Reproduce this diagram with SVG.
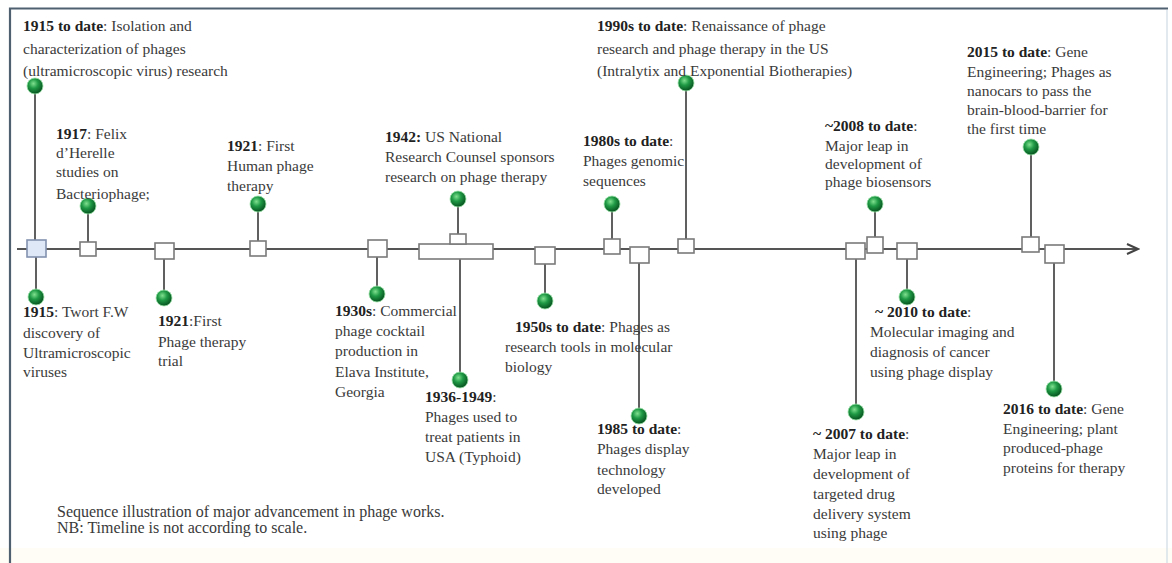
<svg xmlns="http://www.w3.org/2000/svg" width="1172" height="563" viewBox="0 0 1172 563">
<defs>
<radialGradient id="ball" cx="0.4" cy="0.35" r="0.65">
<stop offset="0" stop-color="#7fe08f"/>
<stop offset="0.45" stop-color="#1f9a45"/>
<stop offset="1" stop-color="#06521f"/>
</radialGradient>
<marker id="arr" markerWidth="14" markerHeight="12" refX="12" refY="6" orient="auto" markerUnits="userSpaceOnUse">
<path d="M1,1 L12,6 L1,11" fill="none" stroke="#444" stroke-width="2"/>
</marker>
<style>
.t{font-family:"Liberation Serif","Times New Roman",serif;font-size:15.5px;fill:#3a3a3a}
.c{font-size:16px}
.b{font-weight:bold;fill:#222}
.box{fill:#fff;stroke:#7a7a7a;stroke-width:1.6}
.stem{stroke:#606060;stroke-width:2}
.ball{fill:url(#ball);stroke:#9be3a8;stroke-width:0.8}
</style>
</defs>
<rect x="0" y="0" width="1172" height="563" fill="#fff"/>
<rect x="0" y="548" width="1172" height="15" fill="#fffdf5"/>
<path d="M10,563 L10,8.5 L1168,8.5" fill="none" stroke="#4f6070" stroke-width="2.2"/>
<line x1="1167" y1="10" x2="1167" y2="563" stroke="#d8e2ea" stroke-width="1.5"/>

<g id="connectors">
<line x1="17" y1="249" x2="1138" y2="249" stroke="#555" stroke-width="2" marker-end="url(#arr)"/>
<line class="stem" x1="35" y1="86" x2="35" y2="240"/>
<line class="stem" x1="36" y1="257" x2="36" y2="297"/>
<line class="stem" x1="88" y1="206" x2="88" y2="242"/>
<line class="stem" x1="164" y1="259" x2="164" y2="298"/>
<line class="stem" x1="258" y1="204" x2="258" y2="241"/>
<line class="stem" x1="377" y1="257" x2="377" y2="294"/>
<line class="stem" x1="458" y1="199" x2="458" y2="234"/>
<line class="stem" x1="460" y1="259" x2="460" y2="380"/>
<line class="stem" x1="545" y1="264" x2="545" y2="301"/>
<line class="stem" x1="612" y1="204" x2="612" y2="239"/>
<line class="stem" x1="639" y1="263" x2="639" y2="416"/>
<line class="stem" x1="686" y1="83" x2="686" y2="239"/>
<line class="stem" x1="856" y1="259" x2="856" y2="412"/>
<line class="stem" x1="875" y1="204" x2="875" y2="237"/>
<line class="stem" x1="907" y1="259" x2="907" y2="297"/>
<line class="stem" x1="1031" y1="147" x2="1031" y2="237"/>
<line class="stem" x1="1054" y1="263" x2="1054" y2="389"/>
</g>

<g id="n1915">
<rect x="27" y="240" width="19" height="17" fill="#dfe8f6" stroke="#8391b0" stroke-width="1.6"/>
<circle class="ball" cx="35" cy="86" r="8"/>
<circle class="ball" cx="36" cy="297" r="8"/>
<text class="t"><tspan x="23" y="31" class="b">1915 to date</tspan><tspan>: Isolation and</tspan><tspan x="23" y="54">characterization of phages</tspan><tspan x="23" y="76">(ultramicroscopic virus) research</tspan></text>
<text class="t"><tspan x="23" y="317" class="b">1915</tspan><tspan>: Twort F.W</tspan><tspan x="23" y="338">discovery of</tspan><tspan x="23" y="358">Ultramicroscopic</tspan><tspan x="23" y="377">viruses</tspan></text>
</g>

<g id="n1917">
<rect class="box" x="80" y="242" width="16" height="14"/>
<circle class="ball" cx="88" cy="206" r="8"/>
<text class="t"><tspan x="56" y="139" class="b">1917</tspan><tspan>: Felix</tspan><tspan x="56" y="158">d’Herelle</tspan><tspan x="56" y="177">studies on</tspan><tspan x="56" y="199">Bacteriophage;</tspan></text>
</g>

<g id="n1921trial">
<rect class="box" x="155" y="243" width="19" height="16"/>
<circle class="ball" cx="164" cy="298" r="8"/>
<text class="t"><tspan x="158" y="326" class="b">1921</tspan><tspan>:First</tspan><tspan x="158" y="347">Phage therapy</tspan><tspan x="158" y="366">trial</tspan></text>
</g>

<g id="n1921human">
<rect class="box" x="250" y="241" width="16" height="15"/>
<circle class="ball" cx="258" cy="204" r="8"/>
<text class="t"><tspan x="227" y="151" class="b">1921</tspan><tspan>: First</tspan><tspan x="227" y="171">Human phage</tspan><tspan x="227" y="191">therapy</tspan></text>
</g>

<g id="n1930s">
<rect class="box" x="368" y="240" width="19" height="17"/>
<circle class="ball" cx="377" cy="294" r="8"/>
<text class="t"><tspan x="335" y="316" class="b">1930s</tspan><tspan>: Commercial</tspan><tspan x="335" y="336">phage cocktail</tspan><tspan x="335" y="356">production in</tspan><tspan x="335" y="377">Elava Institute,</tspan><tspan x="335" y="397">Georgia</tspan></text>
</g>

<g id="n1942">
<rect class="box" x="419" y="244" width="74" height="15"/>
<rect class="box" x="450" y="234" width="16" height="10"/>
<circle class="ball" cx="458" cy="199" r="8"/>
<circle class="ball" cx="460" cy="380" r="8"/>
<text class="t"><tspan x="385" y="142" class="b">1942:</tspan><tspan> US National</tspan><tspan x="385" y="162">Research Counsel sponsors</tspan><tspan x="385" y="182">research on phage therapy</tspan></text>
<text class="t"><tspan x="425" y="402" class="b">1936-1949</tspan><tspan>:</tspan><tspan x="425" y="422">Phages used to</tspan><tspan x="425" y="442">treat patients in</tspan><tspan x="425" y="462">USA (Typhoid)</tspan></text>
</g>

<g id="n1950s">
<rect class="box" x="535" y="247" width="20" height="17"/>
<circle class="ball" cx="545" cy="301" r="8"/>
<text class="t"><tspan x="515" y="332" class="b">1950s to date</tspan><tspan>: Phages as</tspan><tspan x="505" y="352">research tools in  molecular</tspan><tspan x="505" y="372">biology</tspan></text>
</g>

<g id="n1980s">
<rect class="box" x="604" y="239" width="16" height="15"/>
<circle class="ball" cx="612" cy="204" r="8"/>
<text class="t"><tspan x="583" y="146" class="b">1980s to date</tspan><tspan>:</tspan><tspan x="583" y="166">Phages genomic</tspan><tspan x="583" y="186">sequences</tspan></text>
</g>

<g id="n1985">
<rect class="box" x="630" y="247" width="19" height="16"/>
<circle class="ball" cx="639" cy="416" r="8"/>
<text class="t"><tspan x="597" y="434" class="b">1985 to date</tspan><tspan>:</tspan><tspan x="597" y="454">Phages display</tspan><tspan x="597" y="475">technology</tspan><tspan x="597" y="494">developed</tspan></text>
</g>

<g id="n1990s">
<rect class="box" x="678" y="239" width="16" height="14"/>
<circle class="ball" cx="686" cy="83" r="8"/>
<text class="t"><tspan x="597" y="31" class="b">1990s to date</tspan><tspan>: Renaissance of phage</tspan><tspan x="597" y="54">research and phage therapy in the US</tspan><tspan x="597" y="76">(Intralytix and Exponential Biotherapies)</tspan></text>
</g>

<g id="n2007">
<rect class="box" x="846" y="243" width="19" height="16"/>
<circle class="ball" cx="856" cy="412" r="8"/>
<text class="t"><tspan x="813" y="439" class="b">~ 2007 to date</tspan><tspan>:</tspan><tspan x="813" y="459">Major leap in</tspan><tspan x="813" y="479">development of</tspan><tspan x="813" y="499">targeted drug</tspan><tspan x="813" y="519">delivery system</tspan><tspan x="813" y="538">using phage</tspan></text>
</g>

<g id="n2008">
<rect class="box" x="867" y="237" width="16" height="16"/>
<circle class="ball" cx="875" cy="204" r="8"/>
<text class="t"><tspan x="825" y="131" class="b">~2008 to date</tspan><tspan>:</tspan><tspan x="825" y="151">Major leap in</tspan><tspan x="825" y="169">development of</tspan><tspan x="825" y="187">phage biosensors</tspan></text>
</g>

<g id="n2010">
<rect class="box" x="897" y="243" width="20" height="16"/>
<circle class="ball" cx="907" cy="297" r="8"/>
<text class="t"><tspan x="875" y="317" class="b">~ 2010 to date</tspan><tspan>:</tspan><tspan x="870" y="337">Molecular imaging and</tspan><tspan x="870" y="357">diagnosis of cancer</tspan><tspan x="870" y="377">using phage display</tspan></text>
</g>

<g id="n2015">
<rect class="box" x="1022" y="237" width="17" height="15"/>
<circle class="ball" cx="1031" cy="147" r="8"/>
<text class="t"><tspan x="967" y="57" class="b">2015 to date</tspan><tspan>: Gene</tspan><tspan x="967" y="77">Engineering; Phages as</tspan><tspan x="967" y="96">nanocars to pass the</tspan><tspan x="967" y="115">brain-blood-barrier for</tspan><tspan x="967" y="134">the first time</tspan></text>
</g>

<g id="n2016">
<rect class="box" x="1045" y="245" width="19" height="18"/>
<circle class="ball" cx="1054" cy="389" r="8"/>
<text class="t"><tspan x="1003" y="414" class="b">2016 to date</tspan><tspan>: Gene</tspan><tspan x="1003" y="434">Engineering; plant</tspan><tspan x="1003" y="453">produced-phage</tspan><tspan x="1003" y="473">proteins for therapy</tspan></text>
</g>

<g id="caption">
<text class="t c"><tspan x="57" y="517">Sequence illustration of major advancement in phage works.</tspan><tspan x="57" y="533">NB: Timeline is not according to scale.</tspan></text>
</g>
</svg>
